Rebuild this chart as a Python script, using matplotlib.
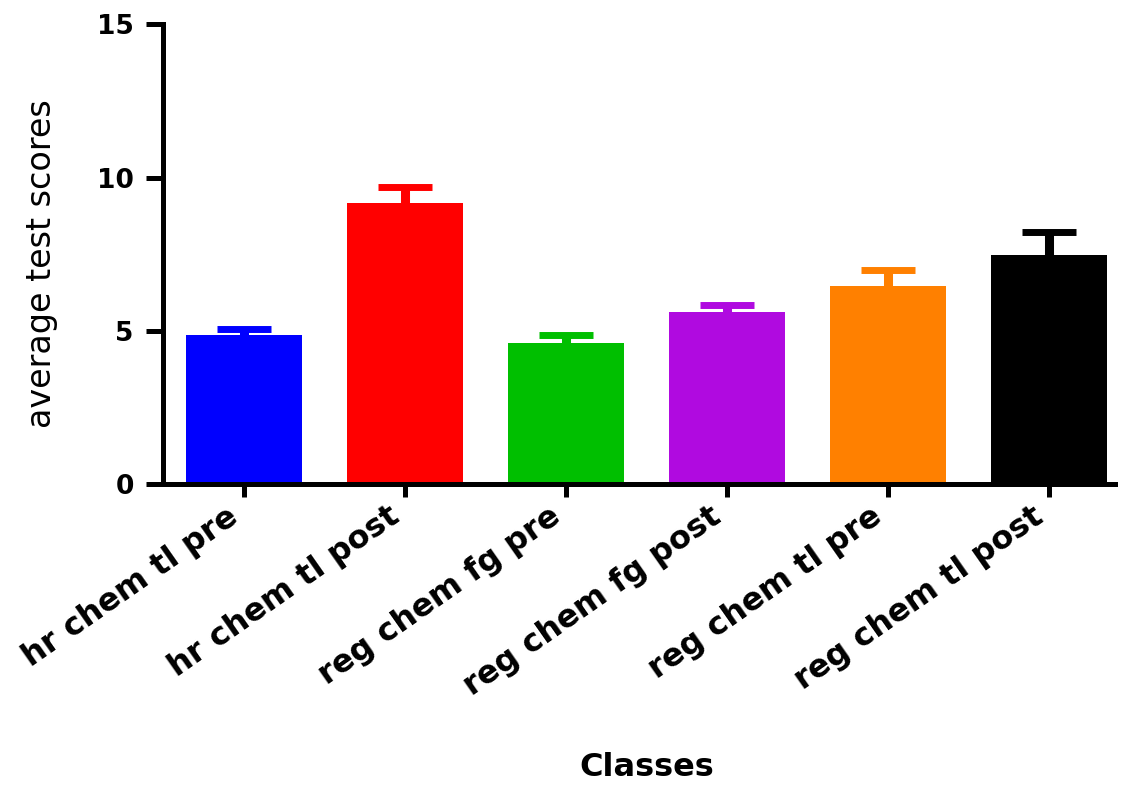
import numpy as np
import matplotlib
matplotlib.use("Agg")
import matplotlib.pyplot as plt

# mean test score per class with upper error bar
classes = ["hr chem tl pre", "hr chem tl post", "reg chem fg pre",
           "reg chem fg post", "reg chem tl pre", "reg chem tl post"]
means = [4.88, 9.16, 4.61, 5.61, 6.48, 7.48]
errors = [0.17, 0.52, 0.25, 0.25, 0.52, 0.75]
colors = ["#0000ff", "#ff0000", "#00bf00", "#b00ae0", "#ff8000", "#000000"]

plt.rcParams['font.family'] = ['DejaVu Sans']

fig = plt.figure(figsize=(11.24, 7.85), dpi=100)
ax = fig.add_axes([0.145, 0.383, 0.847, 0.586])

x = np.arange(len(classes))
ax.bar(x, means, width=0.72, color=colors, zorder=2)

# upper error bars only: stem + cap
tops = np.array(means) + np.array(errors)
ax.vlines(x, means, tops, colors=colors, linewidth=6.5, zorder=1)
ax.hlines(tops, x - 0.168, x + 0.168, colors=colors, linewidth=5, zorder=1)

ax.set_xlim(-0.505, 5.41)
ax.set_ylim(0, 15)
ax.set_yticks([0, 5, 10, 15])

for side in ("top", "right"):
    ax.spines[side].set_visible(False)
for side in ("left", "bottom"):
    ax.spines[side].set_linewidth(3.6)

ax.tick_params(axis="y", length=12, width=3.6, pad=9, labelsize=19)
ax.tick_params(axis="x", length=9, width=3.6, pad=3, labelsize=23)
ax.set_xticks(x)
ax.set_xticklabels(classes, rotation=35, ha="right", va="top",
                   fontweight="bold")
for lab in ax.get_yticklabels():
    lab.set_fontweight("bold")

ax.set_ylabel("average test scores", fontsize=24, labelpad=20)
ax.yaxis.set_label_coords(-0.11, 0.48)
fig.text(0.575, 0.011, "Classes", fontsize=23, fontweight="bold",
         ha="center", va="baseline")

fig.savefig("out.png", dpi=100)
